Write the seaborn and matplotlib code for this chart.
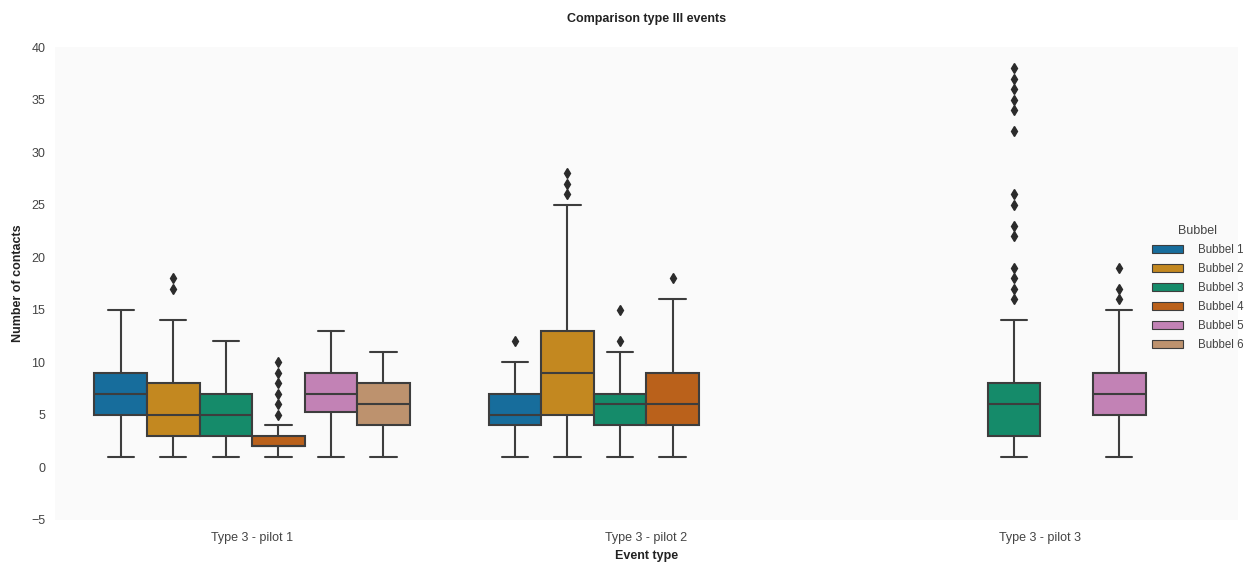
import matplotlib
matplotlib.use("Agg")
import matplotlib.pyplot as plt
import seaborn as sns
import pandas as pd

# ---- data (observations per event type / bubbel) ----
events = ["Type 3 - pilot 1", "Type 3 - pilot 2", "Type 3 - pilot 3"]
bubbels = ["Bubbel 1", "Bubbel 2", "Bubbel 3", "Bubbel 4", "Bubbel 5", "Bubbel 6"]

p1_b1 = [1, 5, 7, 9, 15]
p1_b2 = [1, 2, 3, 3, 4, 5, 5, 6, 7, 8, 14, 17, 18]
p1_b3 = [1, 3, 5, 7, 12]
p1_b4 = [1, 1, 1, 2, 2, 2, 2, 2, 2, 2, 2, 2, 2, 2, 2, 2, 2, 3, 3, 3, 3, 3,
         4, 5, 6, 7, 8, 9, 10]
p1_b5 = [1, 3, 5, 6, 7, 7, 9, 9, 11, 13]
p1_b6 = [1, 4, 6, 8, 11]

p2_b1 = [1, 3, 4, 5, 5, 6, 7, 10, 12]
p2_b2 = [1, 2, 3, 4, 5, 6, 7, 8, 9, 10, 11, 12, 13, 25, 26, 27, 28]
p2_b3 = [1, 2, 3, 4, 5, 5, 6, 6, 7, 7, 11, 12, 15]
p2_b4 = [1, 3, 4, 5, 6, 8, 9, 16, 18]

p3_b3 = [1, 1, 1, 2, 2, 2, 2, 2, 2, 3, 3, 3, 3, 3, 3, 3,
         3, 3, 4, 4, 4, 4, 5, 5, 5, 5, 5, 6, 6, 6, 6,
         6, 6, 6, 6, 7, 7, 7, 7, 7, 7, 8, 8, 8, 8, 8,
         14, 16, 17, 18, 19, 22, 23, 25, 26, 32, 34, 35, 36, 37, 38]
p3_b5 = [1, 3, 4, 5, 5, 6, 6, 7, 7, 8, 8, 9, 9, 15, 16, 17, 19]

groups = [
    (events[0], bubbels[0], p1_b1), (events[0], bubbels[1], p1_b2),
    (events[0], bubbels[2], p1_b3), (events[0], bubbels[3], p1_b4),
    (events[0], bubbels[4], p1_b5), (events[0], bubbels[5], p1_b6),
    (events[1], bubbels[0], p2_b1), (events[1], bubbels[1], p2_b2),
    (events[1], bubbels[2], p2_b3), (events[1], bubbels[3], p2_b4),
    (events[2], bubbels[2], p3_b3), (events[2], bubbels[4], p3_b5),
]

rows = []
for ev, bb, vals in groups:
    for v in vals:
        rows.append({"Event type": ev, "Bubbel": bb, "Number of contacts": v})
df = pd.DataFrame(rows)

# ---- plot ----
sns.set_theme(style="white")
plt.rcParams["font.family"] = ["Liberation Sans", "DejaVu Sans"]

fig = plt.figure(figsize=(12.5, 5.67), dpi=100)
ax = fig.add_axes([0.044, 0.083, 0.946, 0.834])
ax.set_facecolor("#fafafa")

sns.boxplot(
    data=df, x="Event type", y="Number of contacts", hue="Bubbel",
    order=events, hue_order=bubbels, palette="colorblind",
    saturation=0.75, width=0.8, gap=0, linecolor="#3d3d3d", linewidth=1.5,
    flierprops=dict(marker="d", markersize=5, markerfacecolor="#2b2b2b",
                    markeredgecolor="#2b2b2b"),
    ax=ax,
)

ax.set_ylim(-5, 40)
ax.set_xlim(-0.5, 2.5)
for s in ax.spines.values():
    s.set_visible(False)
ax.tick_params(axis="both", labelsize=9, colors="#444444", length=0)
ax.tick_params(axis="x", pad=9)
ax.tick_params(axis="y", pad=7)
ax.set_xlabel("Event type", fontsize=9, fontweight="bold", color="#222222", labelpad=4)
ax.set_ylabel("Number of contacts", fontsize=9, fontweight="bold", color="#222222", labelpad=5)
ax.set_title("Comparison type III events", fontsize=9, fontweight="bold", color="#222222", pad=18)

leg = ax.legend(title="Bubbel", loc="center right", bbox_to_anchor=(1.003, 0.492),
                bbox_transform=fig.transFigure, frameon=False, fontsize=8.3,
                title_fontsize=9, handlelength=2.7, handleheight=0.7,
                handletextpad=1.3, labelspacing=0.6)
for t in leg.get_texts():
    t.set_color("#444444")
leg.get_title().set_color("#444444")
for h in leg.legend_handles:
    h.set_linewidth(0.8)

fig.savefig("out.png", dpi=100)
